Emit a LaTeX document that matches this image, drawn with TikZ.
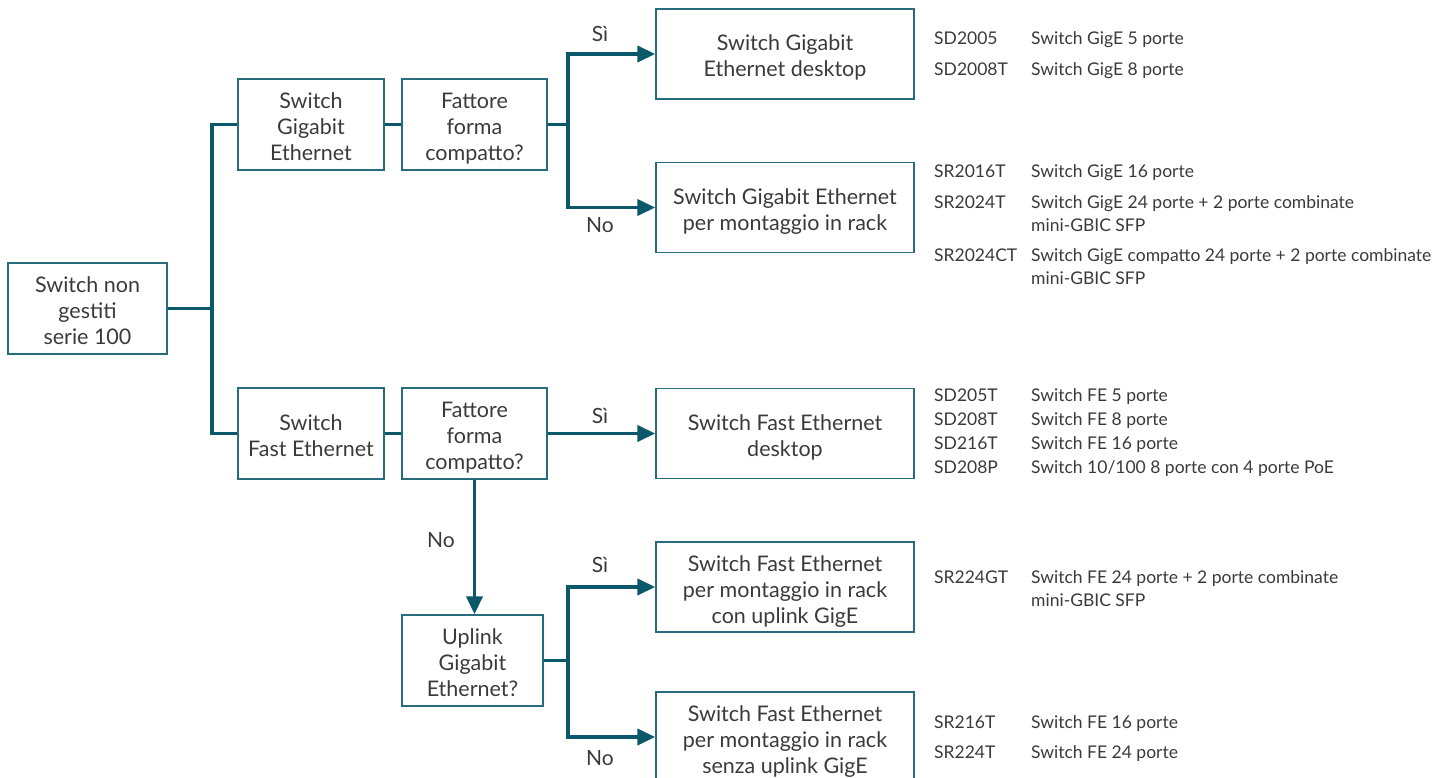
\documentclass[tikz,border=0pt]{standalone}
\usepackage{fontspec}
\setmainfont{Lato}
\usepackage{tikz}
\usetikzlibrary{arrows.meta}

\definecolor{connteal}{RGB}{10,88,106}
\definecolor{boxline}{RGB}{38,108,126}
\definecolor{txt}{RGB}{58,58,58}
\newcommand{\topstrut}{\rule{0pt}{26pt}}
\newcommand{\botstrut}{\rule[-6pt]{0pt}{6pt}}

\begin{document}
\begin{tikzpicture}[x=1pt,y=-1pt,
  box/.style={draw=boxline, line width=1.4pt, align=center, text=txt,
    font=\fontsize{21.5}{26}\selectfont, inner sep=0pt},
  smallbox/.style={box, minimum width=146pt, minimum height=91pt},
  bigbox/.style={box, minimum width=258pt, minimum height=90pt},
  conn/.style={draw=connteal, line width=3.8pt},
  arr/.style={conn, -{Triangle[length=18pt,width=16pt]}},
  lbl/.style={text=txt, font=\fontsize{21}{24}\selectfont},
  item/.style={anchor=west, text=txt, inner sep=0pt, text height=12pt, text depth=0pt,
    font=\fontsize{17.5}{20}\selectfont}]
  \useasboundingbox (0,0) rectangle (1456,778);

  % left part
  \node[box, minimum width=159pt, minimum height=91pt] (root) at (87.5,308.5) {\topstrut Switch non\\gestiti\\serie 100\botstrut};
  \node[smallbox] (ge) at (311,124.5) {\topstrut Switch\\Gigabit\\Ethernet\botstrut};
  \node[smallbox] (fe) at (311,433.5) {\topstrut Switch\\Fast Ethernet\botstrut};
  \node[smallbox, minimum width=145pt] (geq) at (474.5,124.5) {\topstrut Fattore\\forma\\compatto?\botstrut};
  \node[smallbox, minimum width=145pt] (feq) at (474.5,433.5) {\topstrut Fattore\\forma\\compatto?\botstrut};
  \node[smallbox, minimum width=141pt] (upq) at (472.5,660.5) {\topstrut Uplink\\Gigabit\\Ethernet?\botstrut};

  % right boxes
  \node[bigbox] (gedesk) at (785,54) {\topstrut Switch Gigabit\\Ethernet desktop\botstrut};
  \node[bigbox] (gerack) at (785,207.5) {\topstrut Switch Gigabit Ethernet\\per montaggio in rack\botstrut};
  \node[bigbox] (fedesk) at (785,433.5) {\topstrut Switch Fast Ethernet\\desktop\botstrut};
  \node[bigbox] (ferackup) at (785,587) {\topstrut Switch Fast Ethernet\\per montaggio in rack\\con uplink GigE\botstrut};
  \node[bigbox] (ferack) at (785,737) {\topstrut Switch Fast Ethernet\\per montaggio in rack\\senza uplink GigE\botstrut};

  % connectors
  \draw[conn] (root.east) -- ++(44,0) coordinate (b0);
  \draw[conn] (b0) |- (ge.west);
  \draw[conn] (b0) |- (fe.west);
  \draw[conn] (ge.east) -- (geq.west);
  \draw[conn] (fe.east) -- (feq.west);

  \draw[conn] (geq.east) -- ++(20,0) coordinate (b1);
  \draw[arr] (b1) |- (gedesk.west);
  \draw[arr] (b1) |- (gerack.west);
  \draw[arr] (feq.east) -- (fedesk.west);
  \draw[arr] (feq.south) -- (feq.south |- upq.north);

  \draw[conn] (upq.east) -- ++(24,0) coordinate (b2);
  \draw[arr] (b2) |- (ferackup.west);
  \draw[arr] (b2) |- (ferack.west);

  % labels
  \node[lbl] (si1) at (600,34) {Sì};
  \node[lbl] (no1) at (600,225) {No};
  \node[lbl] (si2) at (600,416) {Sì};
  \node[lbl] (no2) at (441,540) {No};
  \node[lbl] (si3) at (600,565) {Sì};
  \node[lbl] (no3) at (600,758) {No};

  % model lists
  \foreach \y/\code/\desc in {
      39/SD2005/Switch GigE 5 porte,
      70/SD2008T/Switch GigE 8 porte,
      172/SR2016T/Switch GigE 16 porte,
      202/SR2024T/Switch GigE 24 porte + 2 porte combinate,
      225//mini-GBIC SFP,
      255/SR2024CT/Switch GigE compatto 24 porte + 2 porte combinate,
      278//mini-GBIC SFP,
      395/SD205T/Switch FE 5 porte,
      419/SD208T/Switch FE 8 porte,
      443/SD216T/Switch FE 16 porte,
      467/SD208P/{Switch 10/100 8 porte con 4 porte PoE},
      577/SR224GT/Switch FE 24 porte + 2 porte combinate,
      600//mini-GBIC SFP,
      722/SR216T/Switch FE 16 porte,
      752/SR224T/Switch FE 24 porte}{
    \node[item] at (934,\y) {\code};
    \node[item] at (1031,\y) {\desc};
  }
\end{tikzpicture}
\end{document}
